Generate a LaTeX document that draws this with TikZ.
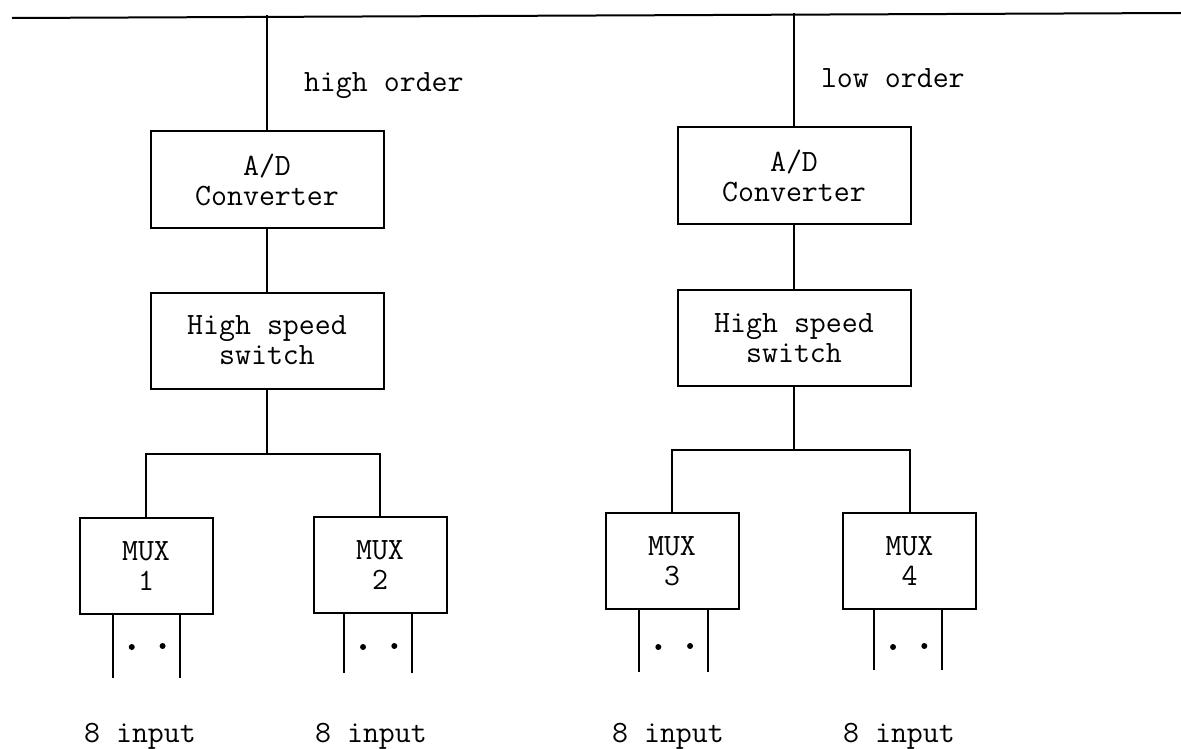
\documentclass[tikz,border=0pt]{standalone}
\usepackage{fontspec}
\begin{document}
\begin{tikzpicture}[x=1pt,y=-1pt,
  line width=2pt,
  every node/.style={font=\ttfamily\fontsize{31}{30}\selectfont},
  blk/.style={draw, rectangle, align=center, inner sep=0pt},
  adbox/.style={blk, minimum width=233pt, minimum height=96pt},
  muxbox/.style={blk, minimum width=133pt, minimum height=96pt},
  lbl/.style={inner sep=0pt},
  dotmark/.style={fill, circle, inner sep=0pt, minimum size=6pt}
]
\useasboundingbox (0,0) rectangle (1181,749);

% top line
\coordinate (tl) at (12,18);
\coordinate (tr) at (1181,13);
\draw (tl) -- (tr);
\coordinate (hi) at (267,15.5);
\coordinate (lo) at (794,13.5);

% boxes
\node[adbox] (ad1) at (267,179.5) {A/D\\Converter};
\node[adbox] (sw1) at (267,340.5) {High speed\\switch};
\node[adbox] (ad2) at (794,175.5) {A/D\\Converter};
\node[adbox] (sw2) at (794,338) {High speed\\switch};

\node[muxbox] (m1) at (146,566) {MUX\\1};
\node[muxbox] (m2) at (380,565) {MUX\\2};
\node[muxbox] (m3) at (672,561) {MUX\\3};
\node[muxbox] (m4) at (909.5,561) {MUX\\4};

% labels
\node[lbl, anchor=base west] (hol) at (303,92) {high order};
\node[lbl, anchor=base west] (lol) at (820,88) {low order};

% vertical connectors
\draw (hi) -- (ad1.north);
\draw (lo) -- (ad2.north);
\draw (ad1) -- (sw1);
\draw (ad2) -- (sw2);

% bus
\coordinate (b1) at (267,454);
\coordinate (b2) at (794,450);
\draw (sw1.south) -- (b1);
\draw (sw2.south) -- (b2);
\draw (m1.north) |- (b1) -| (m2.north);
\draw (m3.north) |- (b2) -| (m4.north);

% inputs
\foreach \m/\a/\b/\e in {m1/-33/34/678, m2/-36/32/673, m3/-33/36/672, m4/-35.5/32.5/670}{
  \coordinate (\m ia) at ([xshift=\a pt]\m.south);
  \coordinate (\m ib) at ([xshift=\b pt]\m.south);
  \draw (\m ia) -- (\m ia |- 0,\e);
  \draw (\m ib) -- (\m ib |- 0,\e);
  \node[dotmark] (\m da) at ([xshift=\a pt + 0.28*(\b pt - \a pt)]\m.south |- 0,647) {};
  \node[dotmark] (\m db) at ([xshift=\a pt + 0.74*(\b pt - \a pt)]\m.south |- 0,646) {};
}

% 8 input labels
\node[lbl, anchor=base] (in1) at (140,742) {8 input};
\node[lbl, anchor=base] (in2) at (371,742) {8 input};
\node[lbl, anchor=base] (in3) at (668,742) {8 input};
\node[lbl, anchor=base] (in4) at (899,742) {8 input};
\end{tikzpicture}
\end{document}
